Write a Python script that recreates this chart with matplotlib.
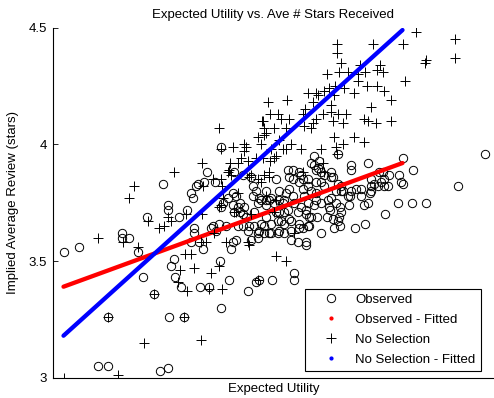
import matplotlib
matplotlib.use("Agg")
import matplotlib.pyplot as plt
from matplotlib.lines import Line2D

plt.rcParams['font.family'] = ['Liberation Sans', 'DejaVu Sans']

# ---- data (x = expected utility, arbitrary units; y = implied average review, stars)
obs_x = [0.45, 0.55, 1.07, 1.15, 0.55, 1.16, 1.31, 1.68, 1.01, 0.90,
         1.22, 1.28, 1.47, 1.56, 1.76, 1.95, 2.03, 2.06, 2.19, 2.41,
         2.41, 1.21, 1.18, 1.67, 0.11, 0.26, 0.69, 0.69, 0.76, 0.85,
         0.94, 1.26, 1.15, 1.15, 1.34, 1.40, 1.38, 1.45, 1.10, 1.41,
         1.41, 1.60, 1.58, 1.63, 1.73, 1.70, 1.68, 1.87, 1.81, 1.90,
         1.93, 2.01, 2.05, 2.13, 2.21, 2.23, 2.31, 2.45, 2.48, 2.55,
         2.08, 2.11, 2.25, 2.31, 2.38, 2.46, 2.55, 2.01, 2.05, 2.11,
         2.18, 2.25, 2.31, 1.90, 1.85, 1.95, 1.98, 2.05, 2.38, 2.45,
         2.53, 1.83, 1.80, 1.78, 1.38, 1.46, 1.50, 1.68, 1.81, 1.54,
         1.43, 1.51, 1.62, 1.80, 2.23, 2.00, 2.00, 2.08, 1.87, 2.16,
         2.26, 1.90, 1.98, 2.35, 2.40, 2.36, 2.46, 2.50, 2.46, 2.03,
         2.06, 2.13, 2.26, 2.33, 2.40, 2.50, 2.55, 1.83, 1.75, 1.80,
         1.85, 1.91, 2.13, 2.30, 2.41, 2.35, 2.26, 2.53, 2.13, 2.18,
         2.28, 2.36, 2.46, 2.56, 1.66, 1.96, 2.06, 2.16, 2.26, 2.38,
         2.50, 2.56, 2.85, 3.15, 2.98, 2.98, 2.61, 2.66, 2.58, 2.65,
         2.63, 2.68, 2.78, 2.71, 3.30, 3.46, 2.40, 2.55, 2.68, 2.78,
         3.18, 3.31, 3.48, 2.36, 2.71, 2.88, 3.03, 3.18, 3.25, 3.35,
         2.18, 2.31, 2.51, 2.63, 2.78, 2.95, 3.15, 3.45, 3.08, 4.32,
         3.50, 3.60, 3.26, 3.50, 4.05, 3.21, 3.17, 3.59, 3.73, 3.32,
         3.12, 3.02, 2.87, 2.81, 2.68, 2.53, 2.96, 2.87, 2.88, 2.86,
         2.74, 2.64, 2.77, 2.68, 2.83, 2.90, 2.97, 2.61, 2.80, 2.63,
         2.85, 2.88, 2.48, 2.58, 2.63, 2.83, 2.98, 3.08, 3.28, 3.36,
         3.18, 3.31, 2.75, 2.61, 2.76, 2.53, 2.58, 2.80, 2.85, 3.11]
obs_y = [3.05, 3.05, 3.03, 3.04, 3.26, 3.26, 3.26, 3.30, 3.36, 3.43,
         3.43, 3.39, 3.39, 3.39, 3.42, 3.37, 3.41, 3.42, 3.42, 3.45,
         3.42, 3.51, 3.48, 3.50, 3.54, 3.56, 3.62, 3.60, 3.60, 3.54,
         3.69, 3.69, 3.74, 3.72, 3.72, 3.77, 3.79, 3.83, 3.83, 3.64,
         3.62, 3.65, 3.64, 3.63, 3.65, 3.75, 3.73, 3.71, 3.71, 3.70,
         3.69, 3.71, 3.75, 3.76, 3.75, 3.71, 3.71, 3.71, 3.73, 3.75,
         3.66, 3.65, 3.67, 3.66, 3.67, 3.64, 3.65, 3.65, 3.62, 3.62,
         3.62, 3.62, 3.62, 3.65, 3.65, 3.63, 3.59, 3.60, 3.59, 3.58,
         3.58, 3.59, 3.58, 3.55, 3.58, 3.58, 3.55, 3.99, 3.88, 3.88,
         3.82, 3.84, 3.84, 3.79, 3.85, 3.82, 3.78, 3.76, 3.75, 3.76,
         3.76, 3.87, 3.86, 3.89, 3.89, 3.86, 3.88, 3.85, 3.84, 3.80,
         3.77, 3.80, 3.80, 3.79, 3.78, 3.81, 3.82, 3.78, 3.77, 3.74,
         3.73, 3.73, 3.74, 3.75, 3.75, 3.72, 3.71, 3.72, 3.69, 3.66,
         3.67, 3.68, 3.66, 3.69, 3.66, 3.65, 3.63, 3.62, 3.63, 3.63,
         3.64, 3.65, 3.96, 3.92, 3.91, 3.89, 3.95, 3.93, 3.92, 3.90,
         3.89, 3.88, 3.88, 3.87, 3.88, 3.87, 3.85, 3.85, 3.84, 3.86,
         3.85, 3.85, 3.84, 3.81, 3.82, 3.82, 3.81, 3.82, 3.82, 3.82,
         3.77, 3.76, 3.78, 3.76, 3.77, 3.78, 3.75, 3.75, 3.78, 3.96,
         3.94, 3.89, 3.88, 3.83, 3.82, 3.83, 3.79, 3.75, 3.75, 3.70,
         3.66, 3.64, 3.65, 3.64, 3.62, 3.57, 3.74, 3.73, 3.71, 3.69,
         3.69, 3.69, 3.72, 3.75, 3.75, 3.80, 3.78, 3.91, 3.86, 3.84,
         3.83, 3.80, 3.87, 3.80, 3.79, 3.80, 3.80, 3.81, 3.84, 3.87,
         3.80, 3.82, 3.76, 3.74, 3.73, 3.70, 3.69, 3.68, 3.67, 3.74]

nosel_x = [0.11, 0.65, 0.91, 1.48, 0.55, 1.31, 1.01, 1.34, 1.56, 1.69,
           1.25, 1.27, 1.41, 1.58, 1.66, 1.32, 1.38, 0.85, 0.70, 0.45,
           0.95, 1.06, 1.11, 1.15, 1.18, 1.33, 1.49, 1.61, 1.73, 1.95,
           1.48, 1.53, 2.23, 2.33, 2.05, 1.96, 2.41, 1.83, 1.98, 2.21,
           1.66, 1.81, 1.68, 1.70, 2.13, 0.76, 0.81, 1.21, 1.49, 1.50,
           1.60, 1.68, 1.69, 1.85, 1.76, 1.78, 1.66, 1.80, 1.91, 1.91,
           1.88, 1.85, 1.77, 1.98, 2.05, 2.11, 2.16, 2.08, 2.23, 1.68,
           1.93, 1.95, 2.03, 2.10, 2.21, 2.30, 2.33, 2.48, 1.75, 1.96,
           2.16, 2.08, 2.18, 2.23, 2.17, 2.15, 2.17, 2.25, 2.10, 2.13,
           2.11, 2.05, 2.84, 2.84, 3.20, 2.88, 2.74, 2.86, 2.95, 3.05,
           3.07, 3.12, 3.27, 3.24, 3.30, 3.05, 3.14, 3.24, 3.31, 2.82,
           2.71, 2.76, 2.91, 3.01, 2.55, 2.63, 2.65, 2.81, 3.38, 2.60,
           2.78, 3.18, 2.34, 2.09, 2.28, 2.36, 2.52, 2.50, 2.63, 2.70,
           2.78, 2.85, 2.93, 2.80, 2.90, 3.11, 3.15, 3.23, 3.38, 2.21,
           2.33, 2.51, 2.58, 3.63, 4.02, 4.02, 3.72, 3.73, 3.50, 3.52,
           3.01, 3.11, 2.81, 2.90, 2.83, 2.68, 2.38, 2.26, 2.11, 2.60,
           2.84, 2.70, 2.71, 2.50]
nosel_y = [3.00, 3.01, 3.15, 3.16, 3.26, 3.26, 3.36, 3.37, 3.38, 3.38,
           3.41, 3.46, 3.47, 3.45, 3.48, 3.53, 3.53, 3.56, 3.58, 3.60,
           3.67, 3.64, 3.65, 3.69, 3.67, 3.70, 3.70, 3.62, 3.58, 3.58,
           3.58, 3.58, 3.52, 3.50, 3.42, 3.57, 3.62, 3.71, 3.70, 3.71,
           3.73, 3.71, 3.74, 3.77, 3.78, 3.77, 3.82, 3.88, 3.92, 3.82,
           3.85, 3.85, 3.82, 3.79, 3.89, 3.87, 4.07, 3.99, 4.00, 3.97,
           3.94, 3.92, 3.92, 3.87, 3.85, 3.87, 3.88, 3.84, 3.76, 3.98,
           3.99, 3.93, 3.94, 3.94, 3.94, 3.98, 3.98, 3.98, 3.88, 3.86,
           3.86, 4.00, 3.98, 3.95, 3.93, 4.18, 4.13, 4.13, 4.10, 4.05,
           4.04, 4.03, 4.43, 4.39, 4.43, 4.35, 4.30, 4.31, 4.31, 4.30,
           4.34, 4.31, 4.34, 4.32, 4.31, 4.27, 4.25, 4.25, 4.23, 4.25,
           4.23, 4.24, 4.24, 4.22, 4.22, 4.22, 4.21, 4.21, 4.19, 4.18,
           4.17, 4.16, 4.19, 4.10, 4.11, 4.11, 4.15, 4.13, 4.11, 4.13,
           4.14, 4.13, 4.13, 4.10, 4.09, 4.11, 4.10, 4.09, 4.10, 4.07,
           4.07, 4.08, 4.07, 4.48, 4.45, 4.37, 4.35, 4.36, 4.43, 4.27,
           4.03, 4.01, 4.03, 4.00, 3.99, 3.98, 4.00, 4.02, 4.07, 4.09,
           3.96, 3.92, 3.88, 3.88]

# fitted lines (end points of each linear fit)
fit_x = [0.11, 3.50]
obs_fit_y = [3.39, 3.92]
nosel_fit_y = [3.18, 4.49]

title = "Expected Utility vs. Ave # Stars Received"
xlabel = "Expected Utility"
ylabel = "Implied Average Review (stars)"
yticks = [3, 3.5, 4, 4.5]
ytick_labels = ["3", "3.5", "4", "4.5"]
legend_labels = ["Observed", "Observed - Fitted", "No Selection", "No Selection - Fitted"]

FS = 9.5

fig = plt.figure(figsize=(4.94, 3.98), dpi=100)
ax = fig.add_axes([0.1063, 0.0510, 0.8937, 0.8794])

ax.plot(obs_x, obs_y, linestyle='none', marker='o', markersize=6,
        markerfacecolor='none', markeredgecolor='black', markeredgewidth=0.7)
ax.plot(fit_x, obs_fit_y, color='red', linewidth=3.1, solid_capstyle='round')
ax.plot(nosel_x, nosel_y, linestyle='none', marker='+', markersize=7,
        color='black', markeredgewidth=0.7)
ax.plot(fit_x, nosel_fit_y, color='blue', linewidth=3.1, solid_capstyle='round')

ax.set_xlim(0, 4.415)
ax.set_ylim(3, 4.5)
ax.set_xticks([])
ax.set_yticks(yticks)
ax.set_yticklabels(ytick_labels)
ax.tick_params(axis='y', direction='in', length=3.5, width=0.6, labelsize=FS, pad=4)
for s in ['top', 'right']:
    ax.spines[s].set_visible(False)
for s in ['left', 'bottom']:
    ax.spines[s].set_linewidth(0.8)

ax.set_title(title, fontsize=FS, pad=7)
ax.set_xlabel(xlabel, fontsize=FS, labelpad=4)
ax.set_ylabel(ylabel, fontsize=FS, labelpad=7)

handles = [
    Line2D([], [], linestyle='none', marker='o', markersize=6, markerfacecolor='none',
           markeredgecolor='black', markeredgewidth=0.7),
    Line2D([], [], linestyle='none', marker='.', markersize=4, color='red'),
    Line2D([], [], linestyle='none', marker='+', markersize=7, color='black', markeredgewidth=0.7),
    Line2D([], [], linestyle='none', marker='.', markersize=4, color='blue'),
]
leg = ax.legend(handles, legend_labels, loc='lower right', bbox_to_anchor=(0.9706, 0.019),
                borderaxespad=0, fontsize=FS, fancybox=False, framealpha=1,
                edgecolor='black', handlelength=3.1, handletextpad=0.3,
                labelspacing=0.58, borderpad=0.4)
leg.get_frame().set_linewidth(0.8)

fig.savefig("out.png", dpi=100)
